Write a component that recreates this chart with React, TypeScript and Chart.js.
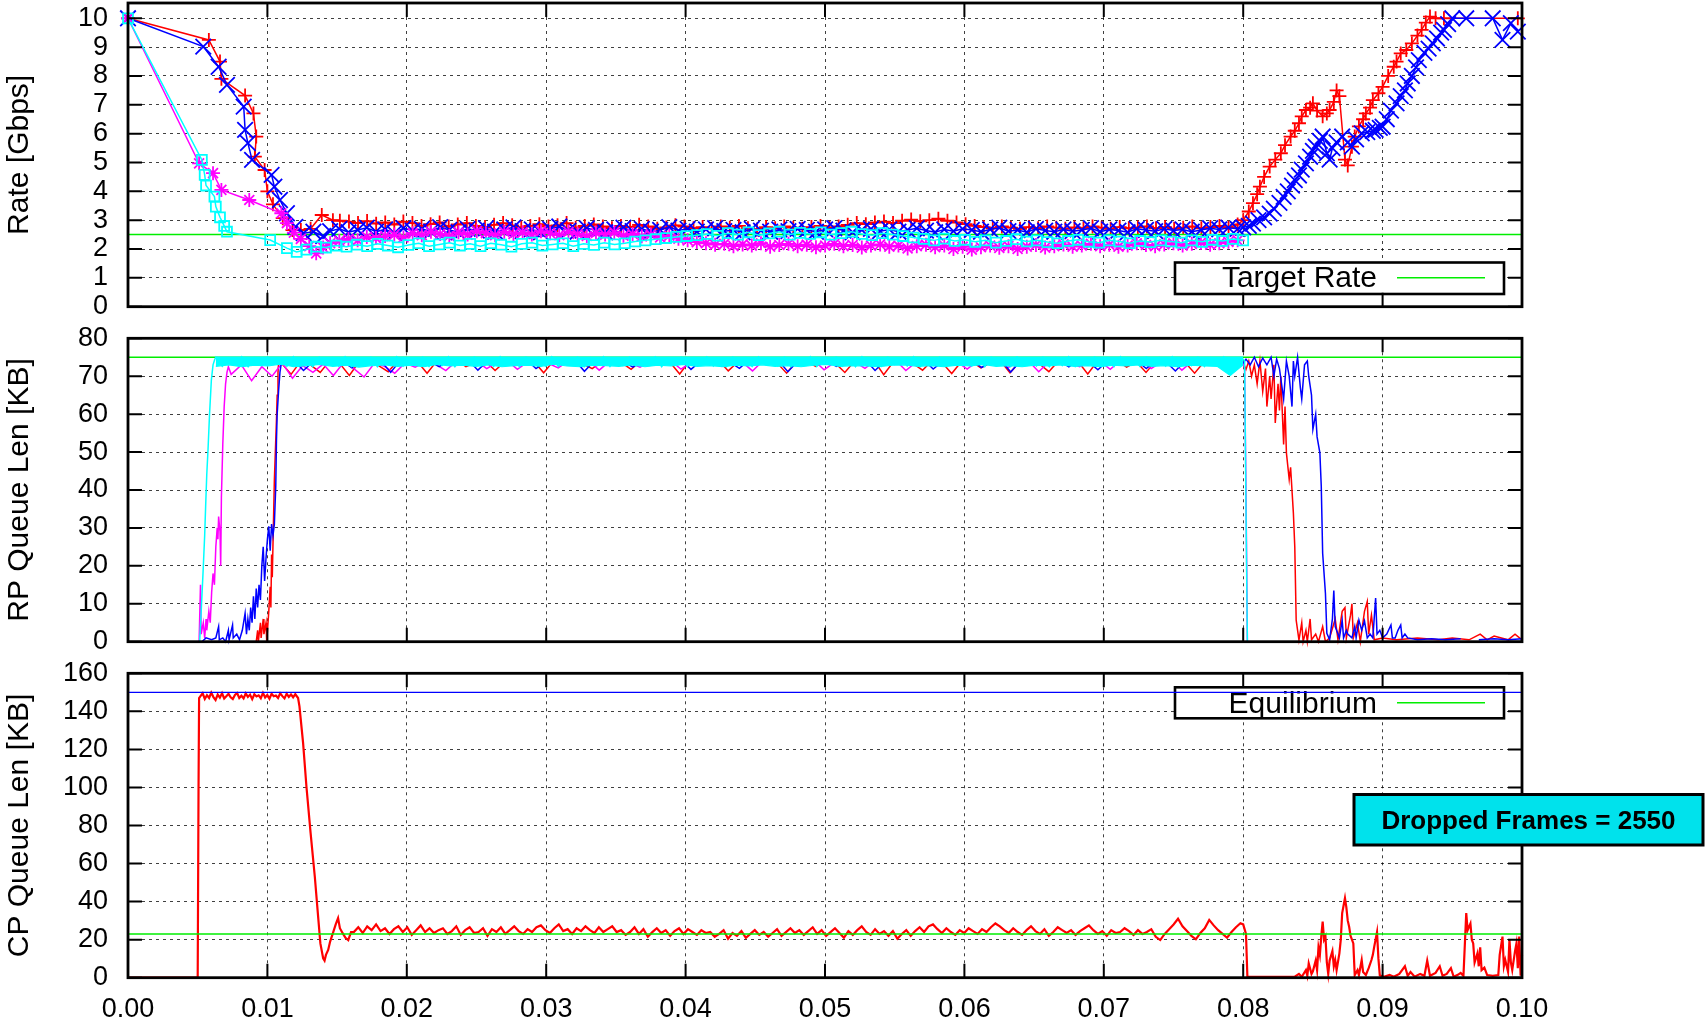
import React, { useEffect, useRef } from "react";
import { Chart, registerables } from "chart.js";
Chart.register(...registerables);

const FONT = "'Liberation Sans', Arial, Helvetica, sans-serif";
const RED = "#ff0000";
const BLUE = "#0000ff";
const MAGENTA = "#ff00ff";
const CYAN = "#00ffff";
const GREEN = "#00ee00";

// ---------- axes ----------
const timeTicks = [0, 0.01, 0.02, 0.03, 0.04, 0.05, 0.06, 0.07, 0.08, 0.09, 0.1];
const rateTicks = [0, 1, 2, 3, 4, 5, 6, 7, 8, 9, 10];
const rpTicks = [0, 10, 20, 30, 40, 50, 60, 70, 80];
const cpTicks = [0, 20, 40, 60, 80, 100, 120, 140, 160];
const rateTitle = "Rate [Gbps]";
const rpTitle = "RP Queue Len [KB]";
const cpTitle = "CP Queue Len [KB]";

// ---------- reference levels ----------
const targetRate = 2.5;
const rpQueueLimit = 75;
const cpEquilibrium = 23;
const cpQueueMax = 150;
const droppedFrames = 2550;

// ---------- Rate panel ----------
const rateRedHead = [[0, 10], [0.0058, 9.25], [0.0066, 8.5], [0.0067, 7.9], [0.0084, 7.32], [0.009, 6.7], [0.0092, 5.9], [0.0091, 5.2], [0.0098, 4.74], [0.01, 4.0], [0.0104, 3.55], [0.0111, 3.07], [0.0118, 2.66], [0.0124, 2.66], [0.0131, 2.7], [0.0139, 3.18], [0.0147, 3.0]];
const rateRedMidSpan = [0.0152, 0.0796];
const rateRedMid = [
  2.98, 2.95, 2.9, 2.97, 2.88, 2.92, 2.85, 2.95, 2.9, 2.8,
  2.86, 2.92, 2.78, 2.85, 2.9, 2.8, 2.76, 2.84, 2.9, 2.82,
  2.75, 2.8, 2.86, 2.78, 2.82, 2.9, 2.74, 2.8, 2.85, 2.78,
  2.72, 2.8, 2.76, 2.84, 2.78, 2.7, 2.75, 2.82, 2.78, 2.72,
  2.76, 2.7, 2.78, 2.74, 2.8, 2.72, 2.68, 2.76, 2.72, 2.78,
  2.74, 2.7, 2.76, 2.8, 2.74, 2.78, 2.84, 2.9, 2.86, 2.92,
  2.95, 2.9, 2.98, 3.02, 2.96, 3.0, 3.05, 2.98, 2.92, 2.86,
  2.8, 2.76, 2.72, 2.78, 2.74, 2.7, 2.76, 2.72, 2.78, 2.74,
  2.7, 2.75, 2.72, 2.78, 2.74, 2.7, 2.76, 2.72, 2.75, 2.78,
  2.72, 2.76, 2.7, 2.74, 2.78, 2.72, 2.76, 2.8, 2.74, 2.85,
];
const rateRedTail = [[0.08, 3.0], [0.0804, 3.3], [0.0807, 3.59], [0.081, 3.9], [0.0812, 4.16], [0.0815, 4.5], [0.0819, 4.86], [0.0823, 5.1], [0.0827, 5.32], [0.083, 5.6], [0.0834, 5.9], [0.0837, 6.1], [0.084, 6.36], [0.0842, 6.6], [0.0845, 6.82], [0.0848, 6.9], [0.085, 7.05], [0.0853, 6.8], [0.0857, 6.6], [0.086, 6.7], [0.0862, 6.82], [0.0865, 7.1], [0.0867, 7.5], [0.0869, 7.3], [0.0873, 5.1], [0.0875, 4.9], [0.0878, 5.55], [0.088, 5.9], [0.0883, 6.25], [0.0886, 6.5], [0.0888, 6.7], [0.0891, 6.9], [0.0893, 7.16], [0.0897, 7.4], [0.09, 7.62], [0.0904, 8.0], [0.0908, 8.32], [0.091, 8.5], [0.0913, 8.78], [0.0917, 8.9], [0.0921, 9.13], [0.0925, 9.4], [0.0928, 9.6], [0.0931, 9.85], [0.0934, 10.06], [0.0938, 10.0], [0.0944, 10.0], [0.0997, 10.0]];

const rateBlueHead = [[0, 10], [0.0054, 9.02], [0.0065, 8.32], [0.0071, 7.69], [0.0083, 6.94], [0.0084, 6.13], [0.0086, 5.67], [0.0089, 5.09], [0.0103, 4.57], [0.0105, 4.16], [0.0109, 3.7], [0.0114, 3.24], [0.012, 2.77], [0.0126, 2.55], [0.0133, 2.6], [0.014, 2.45]];
const rateBlueMidSpan = [0.0145, 0.0796];
const rateBlueMid = [
  2.62, 2.7, 2.58, 2.66, 2.74, 2.6, 2.68, 2.55, 2.72, 2.64,
  2.7, 2.6, 2.76, 2.66, 2.58, 2.7, 2.64, 2.72, 2.6, 2.68,
  2.75, 2.62, 2.68, 2.58, 2.7, 2.78, 2.64, 2.6, 2.72, 2.66,
  2.58, 2.68, 2.74, 2.62, 2.7, 2.6, 2.66, 2.76, 2.64, 2.7,
  2.6, 2.68, 2.72, 2.62, 2.66, 2.58, 2.7, 2.64, 2.6, 2.68,
  2.62, 2.7, 2.66, 2.6, 2.68, 2.72, 2.64, 2.58, 2.66, 2.7,
  2.62, 2.68, 2.6, 2.66, 2.72, 2.64, 2.58, 2.68, 2.62, 2.7,
  2.66, 2.6, 2.68, 2.74, 2.62, 2.66, 2.58, 2.7, 2.64, 2.6,
  2.68, 2.62, 2.66, 2.72, 2.6, 2.68, 2.64, 2.58, 2.7, 2.66,
  2.62, 2.7, 2.64, 2.68, 2.6, 2.66, 2.72, 2.68, 2.74, 2.7,
];
const rateBlueTail = [[0.08, 2.75], [0.0804, 2.8], [0.0807, 2.88], [0.0811, 3.0], [0.0815, 3.1], [0.0819, 3.23], [0.0822, 3.4], [0.0826, 3.6], [0.0829, 3.81], [0.0832, 4.0], [0.0835, 4.2], [0.0837, 4.39], [0.084, 4.55], [0.0842, 4.75], [0.0845, 4.97], [0.0848, 5.2], [0.085, 5.4], [0.0852, 5.55], [0.0855, 5.75], [0.0857, 5.9], [0.086, 5.32], [0.0862, 5.1], [0.0864, 5.5], [0.0867, 5.7], [0.0871, 5.9], [0.0875, 5.7], [0.0878, 5.55], [0.0881, 5.8], [0.0885, 6.01], [0.0889, 6.05], [0.0893, 6.1], [0.0895, 6.13], [0.0898, 6.2], [0.09, 6.24], [0.0903, 6.5], [0.0906, 6.8], [0.091, 7.05], [0.0913, 7.3], [0.0916, 7.5], [0.0918, 7.74], [0.0921, 8.0], [0.0924, 8.3], [0.0926, 8.55], [0.093, 8.8], [0.0933, 8.95], [0.0936, 9.13], [0.0939, 9.3], [0.0942, 9.5], [0.0944, 9.6], [0.0947, 9.8], [0.095, 10.0], [0.096, 10.0], [0.0979, 10.0], [0.0986, 9.25], [0.0992, 9.83], [0.0997, 9.54]];

const rateMagentaHead = [[0, 10], [0.0051, 4.97], [0.0061, 4.63], [0.0067, 4.05], [0.0087, 3.7], [0.011, 3.24], [0.0114, 2.9], [0.0119, 2.57], [0.0124, 2.35], [0.013, 2.1], [0.0135, 1.85], [0.014, 2.05]];
const rateMagentaMidSpan = [0.0145, 0.0796];
const rateMagentaMid = [
  2.2, 2.28, 2.35, 2.3, 2.42, 2.38, 2.45, 2.5, 2.4, 2.55,
  2.48, 2.6, 2.52, 2.45, 2.58, 2.5, 2.62, 2.55, 2.48, 2.6,
  2.52, 2.58, 2.5, 2.62, 2.55, 2.48, 2.6, 2.52, 2.45, 2.56,
  2.5, 2.58, 2.46, 2.52, 2.44, 2.5, 2.4, 2.46, 2.36, 2.3,
  2.24, 2.2, 2.15, 2.18, 2.1, 2.16, 2.12, 2.2, 2.08, 2.14,
  2.18, 2.1, 2.15, 2.06, 2.12, 2.18, 2.1, 2.14, 2.05, 2.12,
  2.16, 2.08, 2.12, 2.02, 2.1, 2.15, 2.06, 2.12, 2.0, 2.08,
  1.98, 2.06, 2.12, 2.04, 2.1, 2.0, 2.08, 2.14, 2.05, 2.1,
  2.16, 2.08, 2.12, 2.18, 2.1, 2.15, 2.08, 2.12, 2.2, 2.14,
  2.1, 2.16, 2.2, 2.12, 2.18, 2.22, 2.15, 2.2, 2.25, 2.3,
];

const rateCyanHead = [[0, 10], [0.0053, 5.09], [0.0055, 4.57], [0.0056, 4.2], [0.0062, 3.82], [0.0063, 3.47], [0.0066, 3.1], [0.0069, 2.8], [0.0071, 2.6], [0.0102, 2.31], [0.0114, 2.03], [0.0121, 1.9], [0.0128, 1.98], [0.0135, 2.08]];
const rateCyanMidSpan = [0.0142, 0.08];
const rateCyanMid = [
  2.05, 2.12, 2.08, 2.15, 2.1, 2.18, 2.12, 2.06, 2.14, 2.2,
  2.1, 2.16, 2.22, 2.12, 2.18, 2.1, 2.2, 2.15, 2.08, 2.18,
  2.22, 2.12, 2.16, 2.2, 2.1, 2.18, 2.14, 2.22, 2.16, 2.2,
  2.26, 2.3, 2.34, 2.38, 2.42, 2.45,
  2.48, 2.52, 2.46, 2.55, 2.5, 2.58, 2.48, 2.54, 2.6, 2.5,
  2.56, 2.52, 2.58, 2.5, 2.55, 2.6, 2.52, 2.48, 2.55, 2.5,
  2.45, 2.4,
  2.35, 2.3, 2.36, 2.28, 2.32, 2.25, 2.3, 2.22, 2.28, 2.34,
  2.26, 2.3, 2.24, 2.2, 2.28, 2.32, 2.25, 2.22, 2.3, 2.26,
  2.2, 2.28, 2.24, 2.3, 2.26, 2.22, 2.3, 2.25, 2.32, 2.28,
  2.35, 2.3,
];

// ---------- RP queue panel ----------
const rpRedHead = [[0.005, 0], [0.0092, 0], [0.0093, 3], [0.00935, 0], [0.0095, 5], [0.00955, 1], [0.0097, 6], [0.00975, 2], [0.0099, 5], [0.00995, 0], [0.0101, 8], [0.0102, 14.5], [0.01025, 9], [0.0103, 23], [0.01035, 17], [0.0105, 42.7], [0.01065, 58.5], [0.0107, 65], [0.01076, 70.9], [0.0108, 73.5]];
const rpRedBandSpan = [0.011, 0.08];
const rpRedBand = [
  73.5, 70.5, 74, 73, 71, 74.2, 73.4, 70.2, 73.8, 74,
  72.8, 71.2, 74.1, 73.5, 73.9, 70.8, 74, 73.2, 74.3, 72.5,
  73.6, 74, 71.5, 73.8, 74.2, 73.4, 73.9, 70.9, 74, 73.5,
  74.1, 73.3, 72, 73.9, 74.2, 73.6, 71.8, 74, 73.4, 74.1,
  73.7, 70.6, 74, 73.5, 73.9, 74.2, 71.4, 73.8, 74, 73.3,
  74.1, 73.6, 70.8, 73.9, 74, 72.6, 74.2, 73.5, 71, 74,
  73.7, 74.1, 70.4, 73.8, 74, 73.4, 71.6, 74.2, 73.6, 70.7,
  73.9, 74, 72.2, 73.5, 74.1, 70.9, 73.8, 74, 73.3, 71.2,
  74.1, 73.6, 73.9, 70.6, 74, 73.5, 74.2, 72.4, 73.8, 71,
  74, 73.4, 74.1, 73.7, 70.8, 73.9, 74, 73.5, 72.8, 73.5,
];
const rpRedTail = [[0.0802, 71.8], [0.0804, 74], [0.0806, 70], [0.0808, 73], [0.081, 68], [0.0812, 74], [0.0814, 66], [0.0816, 72], [0.0817, 62], [0.0819, 70], [0.082, 64], [0.0822, 73], [0.0823, 57.7], [0.0825, 68], [0.0826, 61], [0.0827, 70], [0.0829, 52], [0.083, 62], [0.0831, 49.8], [0.0833, 42.8], [0.0834, 46], [0.0836, 33.9], [0.0837, 25], [0.0838, 5.7], [0.084, 0.4], [0.0842, 5], [0.0843, 0], [0.0845, 3], [0.0846, 0], [0.0848, 6], [0.0849, 0.5], [0.0852, 2], [0.0854, 0], [0.0857, 4], [0.0859, 0], [0.0862, 1], [0.0866, 6], [0.0868, 0.5], [0.0871, 8], [0.0873, 9], [0.0874, 1], [0.0877, 7], [0.0878, 10], [0.0879, 1], [0.0882, 5], [0.0884, 0], [0.0887, 8], [0.0889, 10.6], [0.089, 2], [0.0892, 7], [0.0894, 0.5], [0.09, 1], [0.091, 0.5], [0.0925, 1], [0.094, 0.5], [0.095, 1], [0.0962, 0.5], [0.097, 2], [0.0975, 0.5], [0.098, 1.5], [0.099, 0.5], [0.0995, 2], [0.1, 0.5]];

const rpBlueHead = [[0.0053, 0], [0.0056, 1], [0.006, 0.5], [0.0063, 1], [0.0065, 4], [0.00655, 0.5], [0.0068, 1], [0.007, 0], [0.0072, 3], [0.00725, 0.5], [0.0075, 4.4], [0.00755, 1], [0.0078, 2], [0.008, 0.5], [0.0082, 3], [0.0084, 7.5], [0.0085, 2], [0.0086, 6], [0.0087, 3], [0.0088, 9], [0.0089, 5], [0.009, 12], [0.0091, 6], [0.0092, 14], [0.0093, 9], [0.0094, 15], [0.0095, 11], [0.0096, 20], [0.0097, 25], [0.0098, 16], [0.0099, 22], [0.01, 27], [0.0101, 30.4], [0.0102, 24], [0.0103, 31], [0.0104, 28], [0.0105, 31], [0.0106, 41], [0.01065, 53], [0.0107, 60], [0.0108, 66], [0.0109, 71], [0.011, 73.5]];
const rpBlueBandSpan = [0.0112, 0.08];
const rpBlueBand = [
  73.8, 74.2, 71.5, 73.9, 74.4, 73.6, 74.1, 72.2, 74.3, 73.8,
  74, 71, 74.2, 73.7, 74.4, 73.9, 72.5, 74.1, 73.8, 74.3,
  71.6, 74, 73.9, 74.2, 73.5, 74.4, 72, 73.8, 74.1, 73.9,
  74.3, 71.3, 74, 73.7, 74.2, 73.9, 72.4, 74.4, 73.8, 74.1,
  73.6, 74.3, 71.8, 74, 73.9, 74.2, 73.7, 72.1, 74.3, 73.8,
  74, 74.2, 71.2, 73.9, 74.4, 73.6, 74.1, 72.6, 74.2, 73.8,
  74.3, 71.5, 74, 73.9, 74.2, 73.7, 74.4, 71.9, 74, 73.8,
  74.1, 74.3, 72.3, 73.9, 74.2, 71.1, 74, 73.8, 74.3, 73.6,
  74.1, 72.5, 74.2, 73.9, 71.7, 74, 74.3, 73.8, 74.1, 72,
  74.2, 73.9, 71.4, 74, 74.3, 73.7, 74.1, 72.2, 74, 73.5,
];
const rpBlueTail = [[0.0802, 74.5], [0.0805, 73], [0.0808, 75], [0.0811, 72.5], [0.0814, 74.8], [0.0817, 73], [0.082, 75], [0.0822, 70], [0.0824, 74.5], [0.0826, 72], [0.0829, 64], [0.0831, 74], [0.0833, 70], [0.0835, 62], [0.0836, 74], [0.0837, 70], [0.0839, 75], [0.0841, 67], [0.0842, 64], [0.0844, 73], [0.0846, 74], [0.0847, 70], [0.0849, 65], [0.085, 56], [0.0852, 60], [0.0853, 54], [0.0855, 49.8], [0.0856, 41], [0.0857, 23.3], [0.0859, 12.7], [0.086, 2.2], [0.0862, 0.5], [0.0864, 6], [0.0865, 13.5], [0.0866, 4], [0.0868, 2], [0.0869, 1], [0.0871, 5.7], [0.0872, 1], [0.0874, 3], [0.0875, 2], [0.0878, 1], [0.088, 4], [0.0881, 1], [0.0883, 5.7], [0.0885, 3], [0.0887, 5.5], [0.0889, 1], [0.0891, 2], [0.0893, 1], [0.0895, 11.5], [0.0896, 2], [0.0898, 3], [0.09, 1], [0.0903, 2], [0.0906, 4.4], [0.0907, 1], [0.0909, 1], [0.0911, 3], [0.0913, 4.4], [0.0914, 1], [0.0916, 2], [0.0918, 1], [0.0925, 0.5], [0.0935, 0.8], [0.0945, 0.5], [0.0956, 0.8], [0.0957, null], [0.0969, 0.5], [0.098, 0.8], [0.099, 0.5], [0.1, 0.8]];

const rpMagentaHead = [[0.0051, 0], [0.0052, 15], [0.00525, 2], [0.0054, 5], [0.0055, 1], [0.0056, 6], [0.00565, 3], [0.0058, 8], [0.0059, 5], [0.006, 13], [0.0061, 18], [0.0062, 15], [0.0063, 25], [0.0064, 30], [0.00645, 27], [0.0065, 33], [0.0066, 29], [0.00665, 20], [0.0067, 38], [0.0068, 52], [0.0069, 62], [0.007, 68], [0.0071, 71], [0.0072, 72.5]];
const rpMagentaBandSpan = [0.0074, 0.08];
const rpMagentaBand = [
  70.5, 73, 68.8, 72.5, 70, 73.5, 69.5, 72.8, 71, 73.2,
  70.2, 73.6, 72, 69.8, 73.4, 72.6, 70.8, 73.5, 72.4, 73.8,
  73.2, 71.5, 73.9, 73, 74, 72, 73.6, 74.1, 71.8, 73.8,
  74, 73.4, 72.2, 74.1, 73.7, 74, 71.6, 73.9, 74.2, 73.5,
  72.4, 74, 73.8, 74.1, 71.9, 73.6, 74, 73.9, 72.6, 74.2,
  73.7, 71.4, 74, 73.8, 74.1, 72.8, 73.9, 74.2, 71.7, 73.6,
  74, 73.8, 72.1, 74.1, 73.9, 74.2, 71.5, 73.7, 74, 72.7,
  74.1, 73.8, 71.9, 74, 73.6, 74.2, 72.3, 73.9, 74, 71.2,
  73.8, 74.1, 73.5, 72.5, 74, 73.9, 71.8, 74.2, 73.7, 74,
  72, 73.8, 74.1, 71.6, 73.9, 74, 73.6, 72.4, 74.1, 73.8,
];
const rpMagentaTail = [[0.0801, 72], [0.0802, 40], [0.0803, 0]];

const rpCyanHead = [[0.00514, 0], [0.00525, 8], [0.00538, 18], [0.0055, 28], [0.00557, 35.7], [0.00565, 44], [0.00574, 50.6], [0.00585, 60], [0.00598, 69], [0.0061, 73], [0.00622, 74.4]];
const rpCyanBandSpan = [0.0063, 0.08];
const rpCyanBand = [
  75, 72.6, 74.8, 73, 75.1, 72.5, 74.9, 72.8, 75, 73.2,
  74.7, 72.6, 75.1, 72.9, 74.8, 72.5, 75, 73.1, 74.9, 72.7,
  75.1, 72.6, 74.8, 73, 75, 72.5, 74.9, 72.9, 75.1, 72.7,
  74.8, 73.1, 75, 72.6, 74.9, 72.8, 75.1, 72.5, 74.8, 73,
  75, 72.7, 74.9, 72.6, 75.1, 72.9, 74.8, 72.5, 75, 73.1,
  74.9, 72.7, 75.1, 72.6, 74.8, 73, 75, 72.5, 74.9, 72.8,
  75.1, 72.6, 74.8, 72.9, 75, 72.7, 74.9, 73.1, 75.1, 72.5,
  74.8, 72.8, 75, 72.6, 74.9, 73, 75.1, 72.7, 74.8, 72.5,
  75, 72.9, 74.9, 72.6, 75.1, 73.1, 74.8, 72.7, 75, 72.5,
  74.9, 72.8, 75.1, 72.6, 74.8, 73, 75, 72.7, 74.9, 72.5,
  75.1, 72.9, 74.8, 72.6, 75, 73.1, 74.9, 72.7, 75.1, 72.5,
  74.8, 72.8, 75, 72.6, 74.9, 73, 75.1, 72.7, 74.8, 72.5,
  75, 72.9, 74.9, 72.6, 75.1, 73.1, 74.8, 72.7, 75, 72.5,
  74.9, 72.8, 75.1, 72.6, 74.8, 73, 75, 72.7, 74.9, 72.5,
  75.1, 72.9, 74.8, 72.6, 75, 73.1, 74.9, 72.7, 75.1, 72.5,
  74.8, 72.8, 75, 72.6, 74.9, 73, 75.1, 72.7, 74.8, 74.5,
];
// lower edge of the dense cyan band (the queue oscillates between this floor and the 75 KB cap)
const rpCyanFloor = [
  72.6, 73.0, 72.5, 72.9, 72.7, 73.2, 72.5, 72.8, 73.1, 72.6,
  72.9, 72.4, 72.8, 73.0, 72.6, 72.9, 72.5, 73.1, 72.7, 72.9,
  72.6, 73.0, 72.5, 72.8, 72.9, 72.6, 73.2, 72.7, 72.5, 72.9,
  72.8, 72.6, 73.0, 72.5, 72.9, 72.7, 73.1, 72.6, 72.8, 72.5,
  72.9, 72.7, 73.0, 72.6, 72.8, 72.5, 72.9, 73.1, 72.6, 72.8,
  72.7, 72.5, 72.9, 73.0, 72.6, 72.8, 72.5, 72.9, 72.7, 73.1,
  72.6, 72.8, 72.5, 72.9, 72.7, 73.0, 72.6, 72.8, 72.5, 72.9,
  72.7, 73.0, 72.6, 72.8, 72.5, 72.9, 72.7, 72.6, 70.2, 73.0,
];
const rpCyanCap = 75.2;
const rpCyanTail = [[0.0801, 74], [0.0802, 35], [0.0803, 0]];

// ---------- CP queue panel ----------
const cpHead = [[0, 0], [0.005, 0], [0.00506, 100], [0.0051, 147]];
const cpPlateauSpan = [0.0052, 0.012];
const cpPlateau = [
  148, 149.5, 146.5, 148.5, 147, 149.8, 147.5, 146, 148.8, 147.2,
  149.5, 146.8, 148, 149.2, 147.4, 146.5, 148.6, 149.6, 147, 148.2,
  146.8, 149.4, 147.6, 148.8, 146.4, 149, 147.8, 148.4, 146.9, 149.7,
  147.3, 148.6, 146.6, 149.2, 147.9, 148.3, 147, 149.5, 148, 146.8,
  149.3, 147.6, 148.9, 147.4, 149,
];
const cpFall = [[0.0122, 147], [0.0123, 142.6], [0.01256, 123.4], [0.0128, 100.5], [0.0131, 76], [0.0134, 53.2], [0.01364, 32], [0.0138, 18], [0.014, 10.2], [0.0141, 9], [0.0142, 12], [0.01436, 14.6], [0.0145, 19], [0.0147, 23.4], [0.0149, 28], [0.01507, 31.3], [0.0152, 26], [0.0154, 23.4], [0.0156, 21], [0.0158, 19.8], [0.016, 24]];
const cpBandSpan = [0.0162, 0.0798];
const cpBand = [
  24, 26.5, 23.5, 27, 25, 28, 24.5, 26, 23, 25.5, 27, 24, 26.5, 22.5, 25, 27.5, 24, 26, 23.5, 25,
  26, 23, 24.5, 27, 22.5, 25, 26.5, 23.5, 24, 26, 22, 25.5, 24, 26.5, 23, 25, 27, 24.5, 23, 25.5,
  24, 26.5, 27.5, 25, 23.5, 26, 28, 24.5, 25.5, 23, 26, 24.5, 27, 25, 23.5, 26.5, 24, 25.5, 27, 24,
  25, 22.5, 24, 26.5, 23, 25.5, 21.5, 24, 26, 23.5, 25, 22, 24.5, 26, 23, 25.5, 24, 22.5, 25, 23.5,
  24, 21.5, 23, 25, 20.5, 23.5, 22, 24.5, 21, 23, 25, 22.5, 24, 21.5, 23.5, 25.5, 22, 24, 26, 23.5,
  25, 22.5, 24.5, 26.5, 23, 25, 22, 24, 26, 23.5, 21, 24.5, 22.5, 25, 27, 24, 22.5, 25.5, 23, 24.5,
  22, 24.5, 20.5, 23, 25, 22, 24.5, 26.5, 24, 27, 28, 25.5, 23.5, 26, 24, 22.5, 25, 23.5, 26, 24.5,
  23, 25.5, 24, 26.5, 28.5, 27, 25, 23.5, 26, 24, 22.5, 25, 27, 24.5, 23, 25.5, 22, 24, 26.5, 25,
  23.5, 25, 22.5, 24.5, 26, 27.5, 25, 23, 24.5, 22, 25, 23.5, 24, 26, 24.5, 22.5, 25, 23, 24, 25.5,
  21.5, 19.8, 23, 25.5, 28, 31, 27, 24.5, 22, 20.2, 23.5, 26, 30.4, 27.5, 25, 23, 21, 24, 26.5, 28.6,
];
const cpTail = [[0.08, 28], [0.0802, 23], [0.0803, 0.5], [0.0837, 0.5], [0.084, 2], [0.0842, 0.5], [0.0845, 4], [0.0846, 1], [0.0847, 7.5], [0.0849, 2], [0.085, 3.4], [0.0852, 9], [0.0853, 4], [0.0854, 16], [0.0855, 12], [0.0856, 21.6], [0.0857, 29.5], [0.0858, 20], [0.0859, 21.6], [0.086, 8], [0.0861, 2], [0.0862, 9], [0.0864, 14], [0.0865, 6], [0.0866, 9.3], [0.0867, 4], [0.0869, 12.8], [0.087, 20], [0.0871, 34], [0.0873, 41.8], [0.0874, 37], [0.0875, 30], [0.0876, 26.8], [0.0877, 22], [0.0879, 18], [0.088, 1.4], [0.0882, 4], [0.0883, 1.4], [0.0885, 9.3], [0.0886, 3], [0.0888, 1.4], [0.089, 5], [0.0892, 9.3], [0.0893, 12], [0.0894, 16.3], [0.0896, 24], [0.0897, 10], [0.0898, 1.2], [0.0901, 0.5], [0.0905, 1.5], [0.0908, 0.5], [0.0912, 2], [0.0916, 6], [0.0918, 1], [0.092, 3], [0.0923, 0.5], [0.0927, 2], [0.093, 1], [0.0932, 9], [0.0934, 1], [0.0938, 2.5], [0.0941, 6], [0.0943, 1], [0.0946, 2], [0.0949, 5], [0.0951, 0.5], [0.0954, 1.5], [0.0956, 2.5], [0.0958, 1], [0.096, 34], [0.0961, 25], [0.0963, 28.5], [0.0964, 20], [0.0965, 18], [0.0966, 8], [0.0968, 12.8], [0.0969, 6], [0.097, 16], [0.0971, 4], [0.0973, 5.3], [0.0975, 1.4], [0.0979, 1], [0.0983, 1.4], [0.0984, 12], [0.0986, 21.6], [0.0987, 6], [0.0988, 9.3], [0.099, 3], [0.0991, 20], [0.0992, 8], [0.0993, 4], [0.0995, 14], [0.0996, 18], [0.0997, 5], [0.0998, 21.6], [0.0999, 1], [0.1, 12]];

// ---------- helpers ----------
const pairs = (list: any[]) => list.map(([x, y]) => ({ x, y }));
const spread = (span: number[], ys: number[]) =>
  ys.map((y, i) => ({ x: span[0] + ((span[1] - span[0]) * i) / (ys.length - 1), y }));
const hline = (v: number) => [{ x: timeTicks[0], y: v }, { x: timeTicks[timeTicks.length - 1], y: v }];

const W = 1705;
const PLOT_LEFT = 128;
const PLOT_RIGHT_PAD = 183;

const framePlugin = {
  id: "frame",
  afterDatasetsDraw(chart: any) {
    const { ctx, chartArea: a } = chart;
    const xs = chart.scales.x;
    const ys = chart.scales.y;
    ctx.save();
    ctx.strokeStyle = "#000";
    ctx.lineWidth = 2;
    ctx.beginPath();
    xs.ticks.forEach((t: any) => {
      const p = xs.getPixelForValue(t.value);
      ctx.moveTo(p, a.bottom);
      ctx.lineTo(p, a.bottom - 14);
      ctx.moveTo(p, a.top);
      ctx.lineTo(p, a.top + 14);
    });
    ys.ticks.forEach((t: any) => {
      const p = ys.getPixelForValue(t.value);
      ctx.moveTo(a.left, p);
      ctx.lineTo(a.left + 14, p);
      ctx.moveTo(a.right, p);
      ctx.lineTo(a.right - 14, p);
    });
    ctx.stroke();
    ctx.lineWidth = 2.8;
    ctx.strokeRect(a.left, a.top, a.right - a.left, a.bottom - a.top);
    ctx.restore();
  },
};

const keyPlugin = (label: string, top: number, bottom: number, baseline: number, lineY: number) => ({
  id: "key",
  beforeDatasetsDraw(chart: any) {
    const { ctx } = chart;
    ctx.save();
    ctx.fillStyle = "#fff";
    ctx.fillRect(1175, top, 329, bottom - top);
    ctx.strokeStyle = "#000";
    ctx.lineWidth = 2.6;
    ctx.strokeRect(1175, top, 329, bottom - top);
    ctx.fillStyle = "#000";
    ctx.font = `30px ${FONT}`;
    ctx.textAlign = "right";
    ctx.textBaseline = "alphabetic";
    ctx.fillText(label, 1377, baseline);
    ctx.strokeStyle = GREEN;
    ctx.lineWidth = 1.5;
    ctx.beginPath();
    ctx.moveTo(1397, lineY);
    ctx.lineTo(1485, lineY);
    ctx.stroke();
    ctx.restore();
  },
});

const dropPlugin = {
  id: "drop",
  afterDraw(chart: any) {
    const { ctx } = chart;
    ctx.save();
    ctx.fillStyle = "#00e2ec";
    ctx.fillRect(1354, 137.5, 349, 50.5);
    ctx.strokeStyle = "#000";
    ctx.lineWidth = 3;
    ctx.strokeRect(1354, 137.5, 349, 50.5);
    ctx.fillStyle = "#000";
    ctx.font = `bold 26px ${FONT}`;
    ctx.textAlign = "center";
    ctx.textBaseline = "alphabetic";
    ctx.fillText(`Dropped Frames = ${droppedFrames}`, 1528.5, 171.5);
    ctx.restore();
  },
};

function makeConfig(p: any) {
  return {
    type: "line",
    data: { datasets: p.datasets },
    plugins: [framePlugin, ...(p.plugins || [])],
    options: {
      animation: false,
      responsive: false,
      maintainAspectRatio: false,
      events: [],
      layout: { autoPadding: false, padding: { left: 0, right: PLOT_RIGHT_PAD, top: p.padTop, bottom: 0 } },
      plugins: { legend: { display: false }, tooltip: { enabled: false } },
      elements: { line: { tension: 0 } },
      scales: {
        x: {
          type: "linear",
          min: 0,
          max: 0.1,
          afterBuildTicks: (s: any) => {
            s.ticks = timeTicks.map((v) => ({ value: v }));
          },
          afterFit: (s: any) => {
            s.height = p.xHeight;
            s.paddingLeft = 0;
            s.paddingRight = 0;
          },
          grid: { color: "rgba(0,0,0,0.75)", lineWidth: 1, drawTicks: false },
          border: { display: false, dash: [3, 4] },
          ticks: {
            display: p.showX,
            padding: 16,
            color: "#000",
            font: { family: FONT, size: 27 },
            maxRotation: 0,
            autoSkip: false,
            callback: (v: any) => Number(v).toFixed(2),
          },
        },
        y: {
          min: p.yMin,
          max: p.yMax,
          afterBuildTicks: (s: any) => {
            s.ticks = p.yTicks.map((v: number) => ({ value: v }));
          },
          afterFit: (s: any) => {
            s.width = PLOT_LEFT;
            s.paddingTop = 0;
            s.paddingBottom = 0;
          },
          grid: { color: "rgba(0,0,0,0.75)", lineWidth: 1, drawTicks: false },
          border: { display: false, dash: [3, 4] },
          ticks: { padding: 20, color: "#000", font: { family: FONT, size: 27 }, autoSkip: false },
          title: {
            display: true,
            text: p.yTitle,
            color: "#000",
            font: { family: FONT, size: 30 },
            padding: { top: 2, bottom: 0 },
          },
        },
      },
    },
  };
}

const lineDs = (data: any[], color: string, width: number, order: number, extra: any = {}) => ({
  data,
  borderColor: color,
  backgroundColor: color,
  borderWidth: width,
  pointRadius: 0,
  fill: false,
  clip: false,
  order,
  ...extra,
});

const markDs = (data: any[], color: string, style: string, radius: number, order: number) => ({
  data,
  borderColor: color,
  backgroundColor: "rgba(0,0,0,0)",
  borderWidth: 1.5,
  pointStyle: style,
  pointRadius: radius,
  pointBorderWidth: 1.8,
  pointBorderColor: color,
  pointBackgroundColor: "rgba(0,0,0,0)",
  fill: false,
  clip: false,
  order,
});

function rateConfig() {
  const red = [...pairs(rateRedHead), ...spread(rateRedMidSpan, rateRedMid), ...pairs(rateRedTail)];
  const blue = [...pairs(rateBlueHead), ...spread(rateBlueMidSpan, rateBlueMid), ...pairs(rateBlueTail)];
  const magenta = [...pairs(rateMagentaHead), ...spread(rateMagentaMidSpan, rateMagentaMid)];
  const cyan = [...pairs(rateCyanHead), ...spread(rateCyanMidSpan, rateCyanMid)];
  return makeConfig({
    padTop: 3,
    xHeight: 11.3,
    showX: false,
    yMin: 0,
    yMax: 10.53,
    yTicks: rateTicks,
    yTitle: rateTitle,
    plugins: [keyPlugin("Target Rate", 262.5, 294, 287.3, 277.7)],
    datasets: [
      markDs(red, RED, "cross", 7, 4),
      lineDs(hline(targetRate), GREEN, 1.5, 3),
      markDs(blue, BLUE, "crossRot", 11, 2),
      markDs(magenta, MAGENTA, "star", 7, 1),
      markDs(cyan, CYAN, "rect", 7, 0),
    ],
  });
}

function rpConfig() {
  const red = [...pairs(rpRedHead), ...spread(rpRedBandSpan, rpRedBand), ...pairs(rpRedTail)];
  const blue = [...pairs(rpBlueHead), ...spread(rpBlueBandSpan, rpBlueBand), ...pairs(rpBlueTail)];
  const magenta = [...pairs(rpMagentaHead), ...spread(rpMagentaBandSpan, rpMagentaBand), ...pairs(rpMagentaTail)];
  const cyanBand = spread(rpCyanBandSpan, rpCyanBand);
  const cyanFloor = spread(rpCyanBandSpan, rpCyanFloor);
  const cyan = [...pairs(rpCyanHead), ...cyanBand, ...pairs(rpCyanTail)];
  return makeConfig({
    padTop: 20.3,
    xHeight: 15.3,
    showX: false,
    yMin: 0,
    yMax: 80,
    yTicks: rpTicks,
    yTitle: rpTitle,
    datasets: [
      lineDs(hline(rpQueueLimit), GREEN, 1.5, 5),
      lineDs(red, RED, 1.5, 4),
      lineDs(magenta, MAGENTA, 1.5, 3),
      lineDs(blue, BLUE, 1.5, 2),
      lineDs(cyanFloor, CYAN, 1.2, 1, { fill: { value: rpCyanCap } }),
      lineDs(cyan, CYAN, 1.5, 0),
    ],
  });
}

function cpConfig() {
  const red = [...pairs(cpHead), ...spread(cpPlateauSpan, cpPlateau), ...pairs(cpFall), ...spread(cpBandSpan, cpBand), ...pairs(cpTail)];
  return makeConfig({
    padTop: 16.3,
    xHeight: 52.3,
    showX: true,
    yMin: 0,
    yMax: 160,
    yTicks: cpTicks,
    yTitle: cpTitle,
    plugins: [keyPlugin("Equilibrium", 30.3, 61.3, 56.3, 45.7), dropPlugin],
    datasets: [
      lineDs(red, RED, 2.2, 2),
      lineDs(hline(cpQueueMax), BLUE, 1.2, 1),
      lineDs(hline(cpEquilibrium), GREEN, 1.5, 0),
    ],
  });
}

const PANELS = [
  { top: 0, height: 318, make: rateConfig },
  { top: 318, height: 339, make: rpConfig },
  { top: 657, height: 373, make: cpConfig },
];

export default function App() {
  const refs = [useRef<HTMLCanvasElement>(null), useRef<HTMLCanvasElement>(null), useRef<HTMLCanvasElement>(null)];
  useEffect(() => {
    Chart.defaults.font.family = FONT;
    const charts = PANELS.map((p, i) => new Chart(refs[i].current as any, p.make() as any));
    return () => charts.forEach((c) => c.destroy());
  }, []);
  return (
    <div style={{ position: "absolute", left: 0, top: 0, width: W, height: 1030, background: "#fff", overflow: "hidden" }}>
      {PANELS.map((p, i) => (
        <canvas
          key={i}
          ref={refs[i]}
          width={W}
          height={p.height}
          style={{ position: "absolute", left: 0, top: p.top, width: W, height: p.height, display: "block" }}
        />
      ))}
    </div>
  );
}
